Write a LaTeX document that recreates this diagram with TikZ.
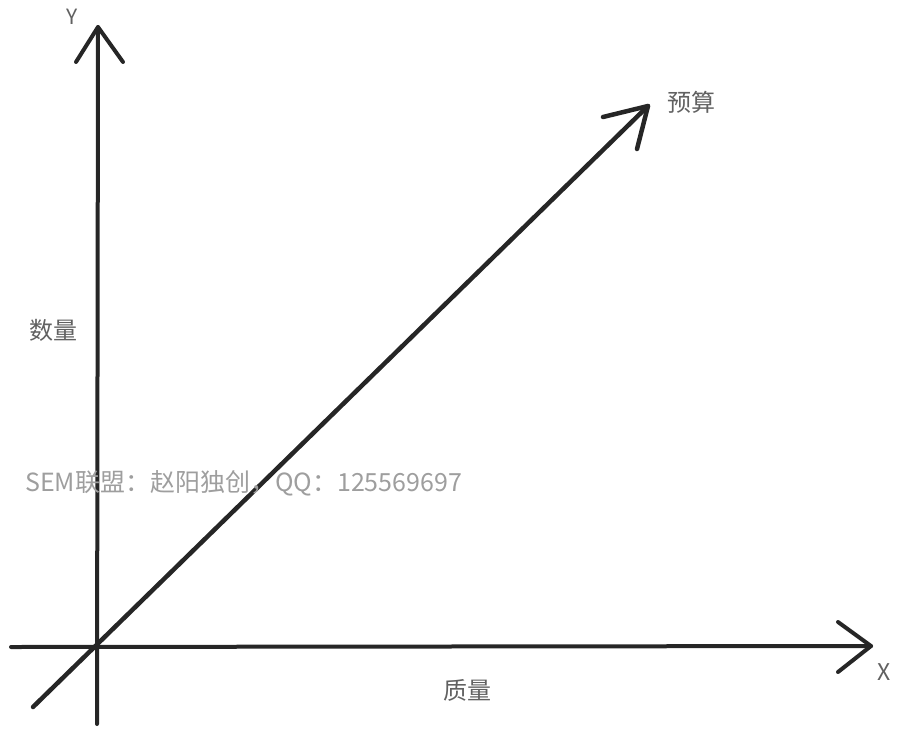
\documentclass[tikz,border=0pt]{standalone}
\usepackage{fontspec}
\setmainfont{Noto Sans CJK SC}
\tikzset{
  axisline/.style={draw=black!85, line width=4pt, line cap=round, line join=round},
  diagline/.style={draw=black!85, line width=4.5pt, line cap=round, line join=round},
  lbl/.style={text=black!62, inner sep=0pt, font=\fontsize{24}{24}\selectfont},
  wm/.style={text=black!38, inner sep=0pt, font=\fontsize{25}{25}\selectfont},
}
\begin{document}
\begin{tikzpicture}[x=1pt,y=-1pt]
\useasboundingbox (0,0) rectangle (912,742);
% Y axis
\coordinate (ybot) at (97,724);
\coordinate (ytip) at (98,27);
\coordinate (yl) at (76,62);
\coordinate (yr) at (123,62);
\draw[axisline] (ybot) -- (ytip);
\draw[axisline] (yl) -- (ytip) -- (yr);
% X axis
\coordinate (xleft) at (11,647);
\coordinate (xtip) at (871,646);
\coordinate (xu) at (838,622);
\coordinate (xd) at (838,672);
\draw[axisline] (xleft) -- (xtip);
\draw[axisline] (xu) -- (xtip) -- (xd);
% diagonal
\coordinate (dbot) at (33,707);
\coordinate (dtip) at (648,106);
\coordinate (da) at (603,117);
\coordinate (db) at (637,149);
\draw[diagline] (dbot) -- (dtip);
\draw[diagline] (da) -- (dtip) -- (db);
% labels
\node[lbl, font=\fontsize{21}{21}\selectfont] (ylab) at (72,17) {Y};
\node[lbl, font=\fontsize{23}{23}\selectfont] (xlab) at (884,672) {X};
\node[lbl] (yusuan) at (691,102) {预算};
\node[lbl] (shuliang) at (53,330) {数量};
\node[lbl] (zhiliang) at (467,690) {质量};
\node[wm, anchor=west] (water) at (25,483) {SEM联盟：赵阳独创，QQ：125569697};
\end{tikzpicture}
\end{document}
